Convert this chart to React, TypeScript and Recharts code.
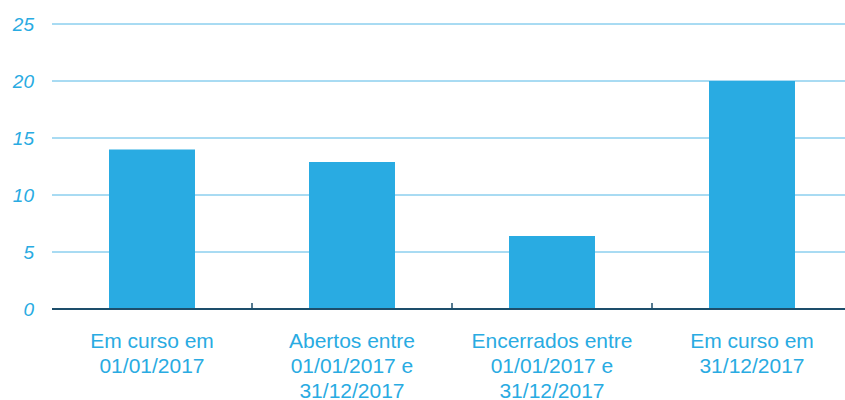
import React from "react";
import { BarChart, Bar, XAxis, YAxis, CartesianGrid } from "recharts";

const categories = [
  "Em curso em\n01/01/2017",
  "Abertos entre\n01/01/2017 e\n31/12/2017",
  "Encerrados entre\n01/01/2017 e\n31/12/2017",
  "Em curso em\n31/12/2017",
];
const values = [14, 12.9, 6.4, 20];
const yTicks = [0, 5, 10, 15, 20, 25];

const data = categories.map((c, i) => ({ name: c, value: values[i] }));

const BLUE = "#29abe2";
const AXIS = "#1d4e6b";

if (typeof document !== "undefined") {
  document.body.style.margin = "0";
  document.body.style.overflow = "hidden";
}

const XTick = (props: any) => {
  const { x, y, payload, index, visibleTicksCount, width } = props;
  const lines = String(payload.value).split("\n");
  const band = width / visibleTicksCount;
  return (
    <g>
      {index < visibleTicksCount - 1 && (
        <line x1={x + band / 2} x2={x + band / 2} y1={y - 6} y2={y} stroke={AXIS} strokeWidth={1.5} />
      )}
      <text
        x={x}
        y={y + 39}
        textAnchor="middle"
        fill={BLUE}
        fontSize={21}
        fontFamily="'Liberation Sans', Arial, sans-serif"
      >
        {lines.map((l, i) => (
          <tspan key={i} x={x} dy={i === 0 ? 0 : 25}>
            {l}
          </tspan>
        ))}
      </text>
    </g>
  );
};

export default function App() {
  return (
    <div style={{ width: 845, height: 400, overflow: "hidden", background: "#fff" }}>
      <BarChart
        width={845}
        height={400}
        data={data}
        margin={{ top: 24, right: -7, bottom: 0, left: 0 }}
        barSize={86}
      >
        <CartesianGrid vertical={false} stroke="#52b7e6" strokeWidth={1} />
        <XAxis
          dataKey="name"
          height={91}
          interval={0}
          axisLine={{ stroke: AXIS, strokeWidth: 2 }}
          tickLine={false}
          tickSize={0}
          tickMargin={0}
          tick={<XTick />}
        />
        <YAxis
          width={52}
          domain={[0, 25]}
          ticks={yTicks}
          axisLine={false}
          tickLine={false}
          tickSize={0}
          tickMargin={18}
          tick={{
            fill: BLUE,
            fontSize: 19,
            fontStyle: "italic",
            fontFamily: "'Liberation Sans', Arial, sans-serif",
          }}
        />
        <Bar dataKey="value" fill={BLUE} isAnimationActive={false} />
      </BarChart>
    </div>
  );
}
